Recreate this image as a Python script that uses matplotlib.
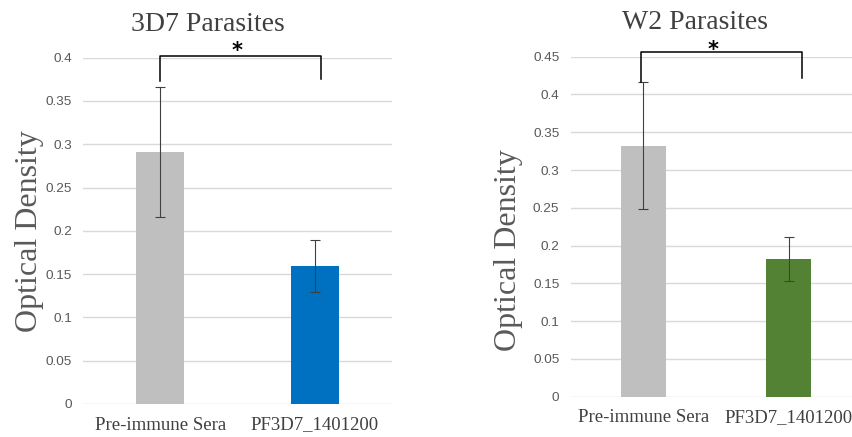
import numpy as np
import matplotlib
matplotlib.use("Agg")
import matplotlib.pyplot as plt

groups = ['Pre-immune Sera', 'PF3D7_1401200']

od_3d7 = [0.291, 0.159]
err_3d7 = [0.075, 0.030]
od_w2 = [0.332, 0.182]
err_w2 = [0.084, 0.029]

ticks_3d7 = [0, 0.05, 0.1, 0.15, 0.2, 0.25, 0.3, 0.35, 0.4]
ticks_w2 = [0, 0.05, 0.1, 0.15, 0.2, 0.25, 0.3, 0.35, 0.4, 0.45]
tick_text_3d7 = ['0', '0.05', '0.1', '0.15', '0.2', '0.25', '0.3', '0.35', '0.4']
tick_text_w2 = ['0', '0.05', '0.1', '0.15', '0.2', '0.25', '0.3', '0.35', '0.4', '0.45']

SERIF = 'Liberation Serif'
SANS = 'Liberation Sans'
W, H = 852, 437


def px_axes(fig, x0, y_top, x1, y_bot):
    return fig.add_axes([x0 / W, (H - y_bot) / H, (x1 - x0) / W, (y_bot - y_top) / H])


def od_panel(ax, values, errors, colors, ticks, tick_text, title, title_xy, ylab_xy,
             bracket_x, bracket_y, star_xy):
    x = np.arange(len(groups))
    ax.bar(x, values, width=0.31, color=colors, zorder=2)
    ax.errorbar(x, values, yerr=errors, fmt='none', ecolor='#404040',
                elinewidth=0.8, capsize=3.3, capthick=0.8, zorder=3)
    ax.set_xlim(-0.5, 1.5)
    ax.set_ylim(0, ticks[-1])
    ax.set_yticks(ticks)
    ax.set_yticklabels(tick_text, fontfamily=SANS, fontsize=9.7, color='#595959')
    ax.set_xticks(x)
    ax.set_xticklabels(groups, fontfamily=SERIF, fontsize=13.5, color='#404040')
    ax.tick_params(axis='both', length=0)
    ax.tick_params(axis='y', pad=8)
    ax.tick_params(axis='x', pad=9)
    ax.grid(axis='y', color='#d9d9d9', linewidth=1, zorder=0)
    for s in ax.spines.values():
        s.set_visible(False)

    ax.set_ylabel('Optical Density', fontfamily=SERIF, fontsize=23, color='#595959')
    ax.yaxis.label.set_va('center')
    ax.yaxis.set_label_coords(*ylab_xy)
    ax.text(title_xy[0], title_xy[1], title, transform=ax.transAxes, ha='center',
            va='center', fontfamily=SERIF, fontsize=20, color='#404040')

    # significance bracket
    (xa, xb), (ya, yb, ytop) = bracket_x, bracket_y
    ax.plot([xa, xa, xb, xb], [ya, ytop, ytop, yb], color='black', lw=1.1,
            clip_on=False, zorder=4)
    ax.text(star_xy[0], star_xy[1], '*', ha='center', va='center', fontsize=15,
            fontweight='bold', color='black', clip_on=False)


fig = plt.figure(figsize=(W / 100, H / 100), dpi=100)

ax1 = px_axes(fig, 83, 57.7, 392, 404)
od_panel(ax1, od_3d7, err_3d7, ['#bfbfbf', '#0070c0'], ticks_3d7, tick_text_3d7,
         '3D7 Parasites', (0.405, 1.097), (-0.172, 0.5),
         (0.0, 1.04), (0.373, 0.375, 0.402), (0.495, 0.408))

ax2 = px_axes(fig, 570.6, 56.7, 861.4, 396.7)
od_panel(ax2, od_w2, err_w2, ['#bfbfbf', '#548235'], ticks_w2, tick_text_w2,
         'W2 Parasites', (0.428, 1.1), (-0.215, 0.431),
         (-0.016, 1.089), (0.417, 0.4215, 0.456), (0.479, 0.459))

fig.savefig('out.png', dpi=100, facecolor='white')
